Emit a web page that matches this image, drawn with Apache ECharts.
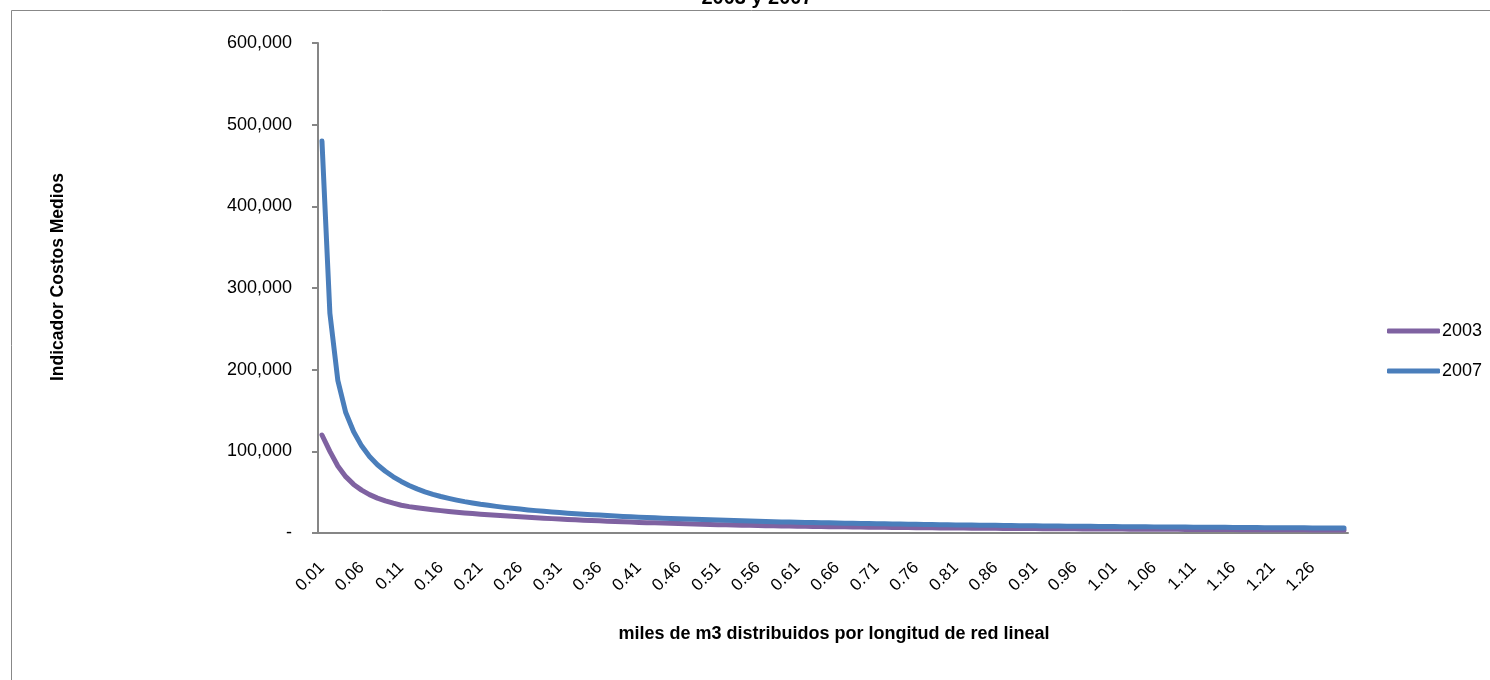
<!DOCTYPE html>
<html>
<head>
<meta charset="utf-8">
<script src="https://cdn.jsdelivr.net/npm/echarts@6/dist/echarts.min.js"></script>
<style>
html,body{margin:0;padding:0;background:#fff;}
#c{width:1490px;height:680px;}
</style>
</head>
<body>
<div id="c"></div>
<script>
const categories = ["0.01","0.02","0.03","0.04","0.05","0.06","0.07","0.08","0.09","0.10",
"0.11","0.12","0.13","0.14","0.15","0.16","0.17","0.18","0.19","0.20",
"0.21","0.22","0.23","0.24","0.25","0.26","0.27","0.28","0.29","0.30",
"0.31","0.32","0.33","0.34","0.35","0.36","0.37","0.38","0.39","0.40",
"0.41","0.42","0.43","0.44","0.45","0.46","0.47","0.48","0.49","0.50",
"0.51","0.52","0.53","0.54","0.55","0.56","0.57","0.58","0.59","0.60",
"0.61","0.62","0.63","0.64","0.65","0.66","0.67","0.68","0.69","0.70",
"0.71","0.72","0.73","0.74","0.75","0.76","0.77","0.78","0.79","0.80",
"0.81","0.82","0.83","0.84","0.85","0.86","0.87","0.88","0.89","0.90",
"0.91","0.92","0.93","0.94","0.95","0.96","0.97","0.98","0.99","1.00",
"1.01","1.02","1.03","1.04","1.05","1.06","1.07","1.08","1.09","1.10",
"1.11","1.12","1.13","1.14","1.15","1.16","1.17","1.18","1.19","1.20",
"1.21","1.22","1.23","1.24","1.25","1.26","1.27","1.28","1.29","1.30"];

const series2003 = [120000,100000,82000,69000,59500,52500,47000,42700,39300,36500,
34000,32300,30900,29600,28500,27400,26400,25500,24600,23800,
23000,22300,21600,21000,20400,19800,19200,18600,18100,17600,
17100,16600,16100,15700,15300,14900,14500,14100,13800,13400,
13000,12700,12400,12100,11800,11500,11200,11000,10700,10500,
10200,10000,9800,9600,9400,9200,9000,8800,8600,8500,
8300,8200,8000,7900,7700,7600,7500,7300,7200,7100,
7000,6900,6800,6700,6600,6500,6400,6300,6200,6100,
6000,6000,5900,5800,5700,5700,5600,5500,5500,5400,
5400,5300,5200,5200,5100,5100,5000,5000,4900,4900,
4800,4800,4700,4700,4600,4600,4500,4500,4500,4400,
4400,4300,4300,4300,4200,4200,4100,4100,4100,4000,
4000,4000,3900,3900,3900,3800,3800,3800,3700,3700];

const series2007 = [480000,269000,187000,147500,124000,106700,93600,83500,75600,68800,
63100,58200,54000,50400,47300,44700,42400,40300,38400,36800,
35200,33900,32600,31400,30300,29300,28300,27400,26600,25800,
25100,24300,23700,23000,22400,21900,21300,20800,20300,19900,
19400,19000,18600,18200,17800,17400,17100,16700,16400,16100,
15800,15500,15200,14900,14600,14400,14100,13900,13600,13400,
13200,13000,12800,12600,12400,12200,12000,11800,11700,11500,
11300,11200,11000,10900,10700,10600,10500,10300,10200,10100,
9900,9800,9700,9600,9500,9400,9300,9100,9000,8900,
8800,8700,8600,8500,8400,8300,8300,8200,8100,8000,
7900,7800,7700,7700,7600,7500,7400,7400,7300,7200,
7100,7100,7000,6900,6900,6800,6700,6700,6600,6500,
6500,6400,6400,6300,6300,6200,6200,6100,6100,6000];

const seriesNames = ["2003","2007"];
const yTicks = [0,100000,200000,300000,400000,500000,600000];
const titleText = "2003 y 2007";
const xTitle = "miles de m3 distribuidos por longitud de red lineal";
const yTitle = "Indicador Costos Medios";

const FONT = "Liberation Sans";
const chart = echarts.init(document.getElementById('c'), null, {renderer:'canvas'});
const fmt = v => v === 0 ? '-' : v.toString().replace(/\B(?=(\d{3})+(?!\d))/g, ',');

chart.setOption({
  animation:false,
  backgroundColor:'#fff',
  textStyle:{fontFamily:FONT},
  graphic:[
    {type:'rect', shape:{x:11.5,y:10.5,width:1500,height:700}, style:{fill:'none', stroke:'#888', lineWidth:1}, silent:true},
    {type:'text', style:{text:titleText, x:757, y:8, align:'center', verticalAlign:'bottom', font:'bold 20px "Liberation Sans"', fill:'#000'}},
    {type:'text', style:{text:xTitle, x:834, y:634, align:'center', verticalAlign:'middle', font:'bold 18px "Liberation Sans"', fill:'#000'}},
    {type:'text', rotation:Math.PI/2, x:58, y:277, style:{text:yTitle, x:0, y:0, align:'center', verticalAlign:'middle', font:'bold 17.5px "Liberation Sans"', fill:'#000'}}
  ],
  legend:{
    orient:'vertical',
    left:1382, top:317,
    itemWidth:53, itemHeight:5, itemGap:22,
    icon:'roundRect',
    textStyle:{fontSize:18, color:'#000', fontFamily:FONT, padding:[0,0,0,-3]},
    data:seriesNames
  },
  grid:{left:318, right:142, top:43, bottom:147, containLabel:false},
  xAxis:{
    type:'category',
    data:categories,
    boundaryGap:true,
    axisLine:{lineStyle:{color:'#868686', width:2}},
    axisTick:{show:false},
    axisLabel:{interval:4, rotate:45, fontSize:17, color:'#000', margin:32, fontFamily:FONT}
  },
  yAxis:{
    type:'value',
    min:yTicks[0], max:yTicks[yTicks.length-1], interval:100000,
    axisLine:{show:true, lineStyle:{color:'#868686', width:2}},
    axisTick:{show:true, inside:false, length:6, lineStyle:{color:'#868686', width:2}},
    splitLine:{show:false},
    axisLabel:{formatter:fmt, fontSize:18, color:'#000', margin:26, fontFamily:FONT}
  },
  series:[
    {name:seriesNames[0], type:'line', data:series2003, showSymbol:false, symbol:'none',
     lineStyle:{color:'#7F62A1', width:5, cap:'round', join:'round'}, itemStyle:{color:'#7F62A1'}},
    {name:seriesNames[1], type:'line', data:series2007, showSymbol:false, symbol:'none',
     lineStyle:{color:'#4A7EBB', width:5, cap:'round', join:'round'}, itemStyle:{color:'#4A7EBB'}}
  ]
});
</script>
</body>
</html>
